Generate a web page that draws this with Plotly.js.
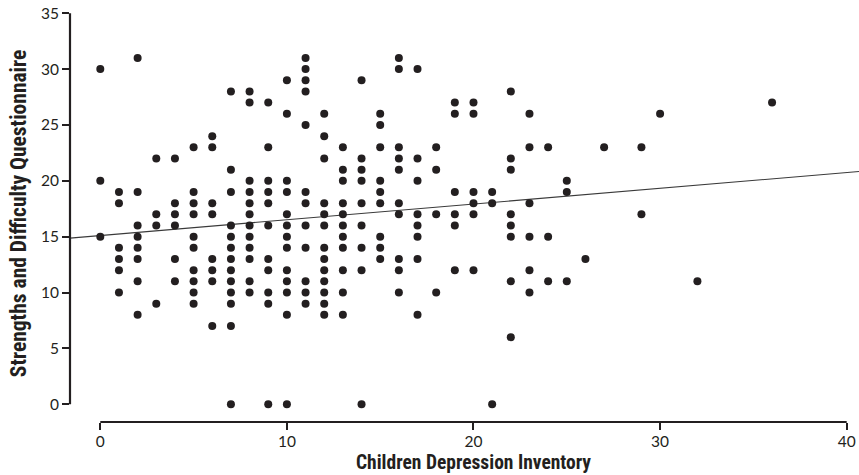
<!DOCTYPE html>
<html>
<head>
<meta charset="utf-8">
<script src="https://cdn.plot.ly/plotly-3.0.1.min.js"></script>
<style>html,body{margin:0;padding:0;background:#fff;}#chart{width:859px;height:475px;}</style>
</head>
<body>
<div id="chart"></div>
<script>
// Children Depression Inventory score (x) and the SDQ scores observed at that score (y)
const cdiScores = [0,1,2,3,4,5,6,7,8,9,10,11,12,13,14,15,16,17,18,19,20,21,22,23,24,25,26,27,29,30,32,36];
const sdqScores = [
  [30,20,15],
  [19,18,14,13,12,10],
  [31,19,16,15,14,13,11,8],
  [22,17,16,9],
  [22,18,17,16,13,11],
  [23,19,18,17,15,14,12,11,10,9],
  [24,23,18,17,13,12,11,7],
  [28,21,19,16,15,14,13,12,11,10,9,7,0],
  [28,27,20,19,18,17,16,15,14,13,11,10],
  [27,23,20,19,18,16,13,12,10,9,0],
  [29,26,20,19,17,16,15,14,12,11,10,8,0],
  [31,30,29,28,25,19,18,16,14,11,10,9],
  [26,24,22,18,17,16,14,13,12,11,10,9,8],
  [23,21,20,18,17,16,15,14,12,10,8],
  [29,22,21,20,18,16,14,12,0],
  [26,25,23,20,19,18,15,14,13],
  [31,30,23,22,21,18,17,13,12,10],
  [30,22,20,17,16,15,13,8],
  [23,21,17,10],
  [27,26,19,17,16,12],
  [27,26,19,18,17,12],
  [19,18,0],
  [28,22,21,17,16,15,11,6],
  [26,23,18,15,12,10],
  [23,15,11],
  [20,19,11],
  [13],
  [23],
  [23,17],
  [26],
  [11],
  [27]
];
const xTicks = [0,10,20,30,40];
const yTicks = [0,5,10,15,20,25,30,35];
const xTitle = 'Children Depression Inventory';
const yTitle = 'Strengths and Difficulty Questionnaire';
const fitIntercept = 15.1;
const fitSlope = 0.141;

const xs = [], ys = [];
cdiScores.forEach((c, i) => sdqScores[i].forEach(v => { xs.push(c); ys.push(v); }));

const xRange = [-1.624, 40.66];
const yRange = [-1.594, 35.74];
const ink = '#231f20';
const titleFamily = '"Liberation Sans Narrow", "Roboto Condensed", sans-serif';

const pts = {
  x: xs, y: ys, type: 'scatter', mode: 'markers',
  marker: {size: 8, color: ink},
  cliponaxis: false, hoverinfo: 'x+y', showlegend: false
};
const fit = {
  x: xRange, y: xRange.map(x => fitIntercept + fitSlope * x),
  type: 'scatter', mode: 'lines',
  line: {color: '#3a3a3a', width: 1.1},
  hoverinfo: 'skip', showlegend: false
};

const layout = {
  width: 859, height: 475,
  margin: {l: 70, r: 0, t: 5, b: 53},
  paper_bgcolor: '#fff', plot_bgcolor: '#fff',
  font: {family: 'Lato, "Open Sans", sans-serif', color: ink},
  xaxis: {
    range: xRange, tickmode: 'array', tickvals: xTicks,
    showgrid: false, zeroline: false, showline: false,
    ticks: 'outside', ticklen: 7, tickwidth: 2, tickcolor: ink,
    ticklabelstandoff: -2,
    tickfont: {size: 15.5, color: ink, family: 'Lato, sans-serif'},
    automargin: false, fixedrange: true
  },
  yaxis: {
    range: yRange, tickmode: 'array', tickvals: yTicks,
    showgrid: false, zeroline: false, showline: false,
    ticks: 'outside', ticklen: 7, tickwidth: 2, tickcolor: ink,
    tickfont: {size: 15.5, color: ink, family: 'Lato, sans-serif'},
    title: {text: yTitle, standoff: 8,
      font: {family: titleFamily, size: 21.5, color: ink, weight: 'bold'}},
    automargin: false, fixedrange: true
  },
  annotations: [
    {text: xTitle, xref: 'x', yref: 'paper', x: (xTicks[0] + xTicks[xTicks.length-1]) / 2, y: -0.097,
     xanchor: 'center', yanchor: 'middle', showarrow: false,
     font: {family: titleFamily, size: 19.5, color: ink, weight: 'bold'}}
  ],
  shapes: [
    {type: 'line', xref: 'x', yref: 'paper', x0: xTicks[0], x1: xTicks[xTicks.length-1], y0: 0, y1: 0,
     line: {color: ink, width: 2.2}},
    {type: 'line', xref: 'paper', yref: 'y', x0: 0, x1: 0, y0: yTicks[0], y1: yTicks[yTicks.length-1],
     line: {color: ink, width: 2.2}}
  ]
};

Plotly.newPlot('chart', [fit, pts], layout, {displayModeBar: false, staticPlot: true});
</script>
</body>
</html>
